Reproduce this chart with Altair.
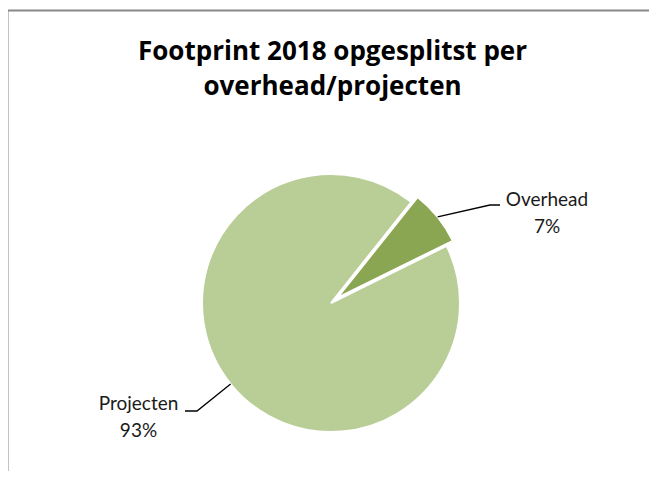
import math
import altair as alt
import pandas as pd

# ---- data ----
categories = ["Overhead", "Projecten"]
values = [7, 93]
labels = ["Overhead", "Projecten"]
colors = ["#8BA652", "#B9CD96"]
title_lines = ["Footprint 2018 opgesplitst per", "overhead/projecten"]

# ---- layout (pixels in view coordinates) ----
PAD_TOP = 70
W, H = 641, 463 - PAD_TOP
CX, CY = 323, 225          # pie centre
R = 129                    # pie radius
START = math.radians(38.5) # first slice angle
EXPLODE = {"Overhead": 8, "Projecten": 0}
LABEL_POS = {"Overhead": (539, 128), "Projecten": (130.5, 332)}  # first-line baseline
ELBOW = {"Overhead": (482, 127), "Projecten": (189, 333)}
LINE_END = {"Overhead": (492, 127), "Projecten": (177, 333)}

total = sum(values)
rows, seg = [], []
acc = START
for cat, val, lab, col in zip(categories, values, labels, colors):
    t0 = acc
    t1 = acc + val / total * 2 * math.pi
    acc = t1
    mid = (t0 + t1) / 2
    ex = EXPLODE[cat]
    cx = CX + ex * math.sin(mid)
    cy = CY - ex * math.cos(mid)
    pct = round(val / total * 100)
    lx, ly = LABEL_POS[cat]
    rows.append(dict(cat=cat, t0=t0, t1=t1, cx=cx, cy=cy, color=col,
                     text=f"{lab}\n{pct}%", lx=lx, ly=ly))
    sx = cx + R * math.sin(mid)
    sy = cy - R * math.cos(mid)
    pts = [(sx, sy), ELBOW[cat], LINE_END[cat]]
    for i, (px, py) in enumerate(pts):
        seg.append(dict(cat=cat, i=i, px=px, py=py))

df = pd.DataFrame(rows)
segdf = pd.DataFrame(seg)
border = pd.DataFrame([
    dict(x=-0.5, y=-67.5, x2=660, y2=-67.5),
    dict(x=-0.5, y=-67.5, x2=-0.5, y2=420),
])

arcs = alt.Chart(df).mark_arc(outerRadius=R, stroke="white", strokeWidth=2).encode(
    x=alt.X("cx:Q", scale=None),
    y=alt.Y("cy:Q", scale=None),
    theta=alt.Theta("t0:Q", scale=None),
    theta2="t1:Q",
    color=alt.Color("color:N", scale=None),
)

leaders = alt.Chart(segdf).mark_line(color="black", strokeWidth=1.3).encode(
    x=alt.X("px:Q", scale=None),
    y=alt.Y("py:Q", scale=None),
    detail="cat:N",
    order="i:Q",
)

texts = alt.Chart(df).mark_text(
    font="Lato", fontSize=19, lineBreak="\n", lineHeight=27,
    align="center", baseline="alphabetic", color="#1a1a1a",
).encode(
    x=alt.X("lx:Q", scale=None),
    y=alt.Y("ly:Q", scale=None),
    text="text:N",
)

frame = alt.Chart(border).mark_rule(color="#888888", strokeWidth=2).encode(
    x=alt.X("x:Q", scale=None), y=alt.Y("y:Q", scale=None),
    x2="x2:Q", y2="y2:Q",
)

chart = alt.layer(frame, arcs, leaders, texts).properties(
    width=W, height=H,
    autosize=alt.AutoSizeParams(type="none"),
    padding={"left": 0, "top": PAD_TOP, "right": 0, "bottom": 0},
    title=alt.TitleParams(
        text=title_lines, font="Open Sans", fontSize=26, fontWeight="bold",
        color="black", anchor="middle", lineHeight=35, offset=-90, dx=4,
    ),
).configure_view(stroke=None).configure_axis(disable=True)

chart.save("out.html", embed_options={"renderer": "svg", "actions": False})
